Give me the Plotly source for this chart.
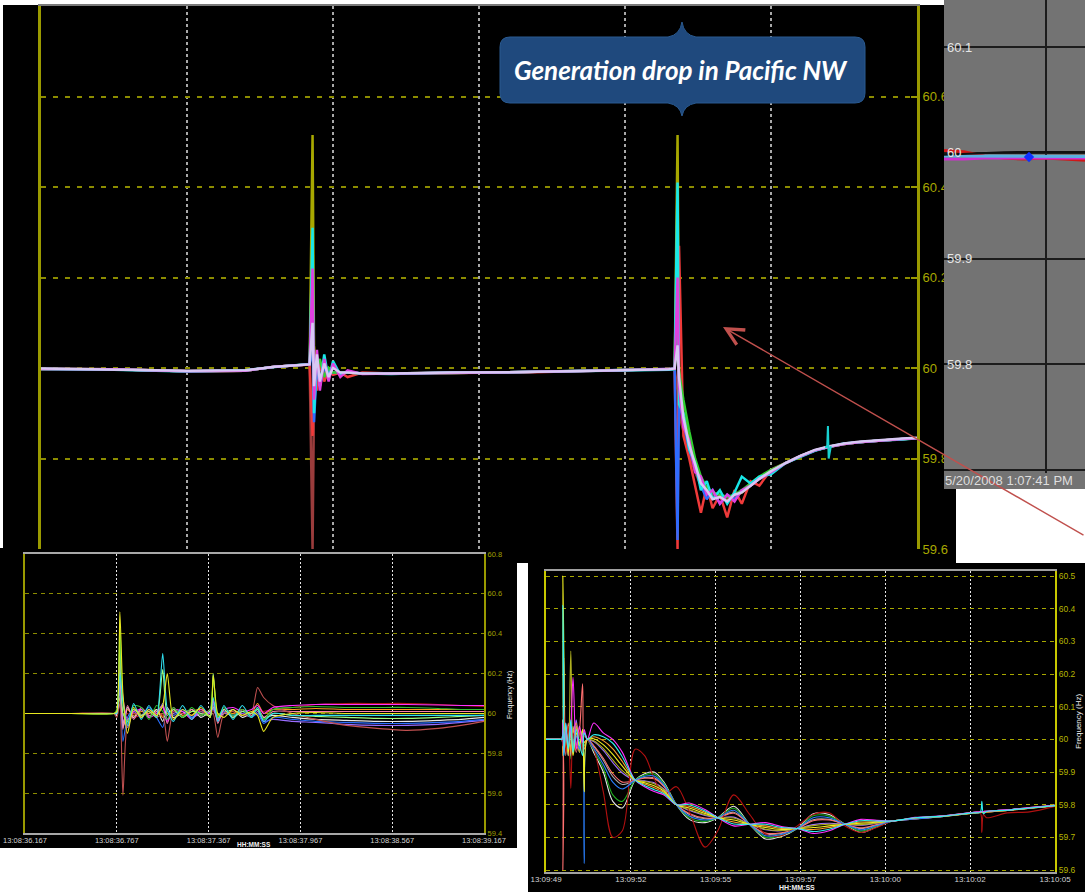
import plotly.graph_objects as go

# ---------------- data ----------------
# Panel 1: large overview (x in grid units, y in Hz)
P1_X = [0, 0.5, 1.0, 1.4, 1.6, 1.84, 1.86, 1.87, 1.89, 1.91, 1.94, 1.97, 2.0, 2.05, 2.1,
        2.2, 2.4, 2.8, 3.3, 3.8, 4.3, 4.34, 4.36, 4.37, 4.40, 4.44, 4.48, 4.52, 4.56, 4.60,
        4.65, 4.70, 4.75, 4.80, 4.86, 4.92, 5.0, 5.1, 5.2, 5.3, 5.4, 5.5, 5.6, 5.75, 5.9, 6.0]
P1_OLIVE = [59.998, 59.997, 59.993, 59.994, 60.003, 60.008, 60.515, 60.05, 59.97, 60.01,
            59.985, 60.0, 59.99, 59.99, 59.99, 59.988, 59.988, 59.989, 59.991, 59.994,
            59.997, 59.998, 60.515, 60.0, 59.90, 59.85, 59.78, 59.75, 59.73, 59.72,
            59.715, 59.71, 59.715, 59.725, 59.74, 59.755, 59.77, 59.79, 59.805, 59.818,
            59.826, 59.832, 59.836, 59.84, 59.843, 59.845]
P1_BROWN = [59.998, 59.997, 59.993, 59.994, 60.003, 60.008, 59.60, 59.93, 60.0, 59.98,
            59.995, 59.99, 59.99, 59.99, 59.99, 59.988, 59.988, 59.989, 59.991, 59.994,
            59.997, 59.998, 59.95, 59.90, 59.86, 59.81, 59.77, 59.74, 59.725, 59.72,
            59.715, 59.712, 59.716, 59.726, 59.741, 59.756, 59.771, 59.79, 59.805, 59.818,
            59.826, 59.832, 59.836, 59.84, 59.843, 59.845]
P1_RED = [59.998, 59.997, 59.993, 59.994, 60.003, 60.008, 59.85, 60.02, 59.95, 60.01,
          59.97, 59.995, 59.985, 59.99, 59.98, 59.99, 59.988, 59.989, 59.99, 59.994,
          59.997, 59.998, 59.60, 60.27, 59.85, 59.80, 59.74, 59.68, 59.74, 59.69,
          59.72, 59.67, 59.73, 59.70, 59.75, 59.74, 59.775, 59.79, 59.805, 59.818,
          59.826, 59.832, 59.836, 59.84, 59.843, 59.845]
P1_BLUE = [59.998, 59.997, 59.993, 59.994, 60.003, 60.008, 60.05, 59.88, 60.01, 59.96,
           60.0, 59.99, 59.99, 59.99, 59.99, 59.988, 59.988, 59.989, 59.991, 59.994,
           59.997, 59.998, 59.62, 59.93, 59.88, 59.82, 59.78, 59.74, 59.71, 59.73,
           59.70, 59.72, 59.71, 59.73, 59.74, 59.755, 59.77, 59.79, 59.805, 59.818,
           59.826, 59.832, 59.836, 59.84, 59.843, 59.845]
P1_GREEN = [59.998, 59.997, 59.993, 59.994, 60.003, 60.008, 60.15, 59.95, 60.0, 60.02,
            59.98, 60.0, 59.99, 59.99, 59.99, 59.988, 59.988, 59.989, 59.991, 59.994,
            59.997, 59.998, 60.12, 59.99, 59.93, 59.86, 59.80, 59.76, 59.735, 59.725,
            59.72, 59.715, 59.72, 59.73, 59.745, 59.76, 59.775, 59.79, 59.805, 59.818,
            59.826, 59.832, 59.836, 59.84, 59.843, 59.845]
P1_CYAN = [59.998, 59.996, 59.992, 59.995, 60.002, 60.009, 60.31, 59.90, 60.02, 59.96,
           60.03, 59.975, 60.015, 59.985, 59.992, 59.988, 59.987, 59.99, 59.991, 59.993,
           59.996, 59.998, 60.41, 59.92, 59.90, 59.82, 59.79, 59.73, 59.75, 59.71,
           59.73, 59.70, 59.725, 59.76, 59.745, 59.76, 59.765, 59.79, 59.804, 59.817,
           59.826, 59.833, 59.836, 59.84, 59.842, 59.845]
P1_MAGENTA = [59.998, 59.997, 59.993, 59.994, 60.003, 60.008, 60.22, 59.93, 60.04, 59.95,
              60.02, 59.97, 60.01, 59.98, 59.995, 59.987, 59.988, 59.989, 59.991, 59.994,
              59.997, 59.998, 60.20, 59.96, 59.87, 59.84, 59.77, 59.76, 59.72, 59.73,
              59.70, 59.72, 59.705, 59.73, 59.74, 59.755, 59.77, 59.79, 59.805, 59.818,
              59.826, 59.832, 59.836, 59.84, 59.843, 59.845]
P1_LAVENDER = [59.999, 59.997, 59.994, 59.995, 60.003, 60.008, 60.10, 59.96, 60.03, 59.97,
               60.01, 59.98, 60.0, 59.99, 59.99, 59.988, 59.988, 59.99, 59.991, 59.994,
               59.997, 59.999, 60.05, 59.98, 59.89, 59.83, 59.79, 59.745, 59.73, 59.71,
               59.715, 59.705, 59.72, 59.725, 59.74, 59.755, 59.772, 59.79, 59.806, 59.819,
               59.827, 59.833, 59.837, 59.841, 59.844, 59.846]
# small late glitch on one unit (cyan)
P1_GLITCH_X = [5.37, 5.385, 5.39, 5.395, 5.41]
P1_GLITCH_Y = [59.825, 59.826, 59.872, 59.80, 59.827]
P1_XGRID = [1, 2, 3, 4, 5]
P1_YTICKS = [59.6, 59.8, 60.0, 60.2, 60.4, 60.6, 60.8]
P1_YTEXT = ["59.6", "59.8", "60", "60.2", "60.4", "60.6", "60.8"]

# Panel 2: grey zoomed view
P2_X = [0, 2, 4, 6, 8, 10, 12, 14.1]
P2_RED = [60.002, 60.001, 59.997, 59.995, 59.994, 59.995, 59.994, 59.993]
P2_MAGENTA = [59.994, 59.994, 59.995, 59.995, 59.995, 59.995, 59.995, 59.995]
P2_LIGHTBLUE = [59.997, 59.997, 59.997, 59.997, 59.997, 59.9965, 59.9965, 59.9965]
P2_BLACK = [59.998, 59.999, 59.9995, 60.0005, 60.0008, 60.0008, 60.0007, 60.0006]
P2_MARK_X = [8.5]
P2_MARK_Y = [59.996]
P2_XGRID = [10.2]
P2_YTICKS = [59.7, 59.8, 59.9, 60.0, 60.1]
P2_YTEXT = ["59.7", "59.8", "59.9", "60", "60.1"]
P2_DATE = "5/20/2008 1:07:41 PM"

# Panel 3: bottom-left (seconds after 13:08:36.167)
T3 = [0, 0.3, 0.58, 0.6, 0.62, 0.64, 0.67, 0.71, 0.76, 0.81, 0.86, 0.90, 0.93, 0.97, 1.03,
      1.09, 1.15, 1.21, 1.23, 1.26, 1.30, 1.36, 1.42, 1.48, 1.52, 1.56, 1.62, 1.75, 1.9,
      2.1, 2.3, 2.5, 2.7, 2.85, 3.0]
P3_DARKRED = [60.0, 60.0, 60.0, 60.0, 60.04, 59.98, 60.0, 59.98, 59.99, 60.0, 60.01, 59.99,
              60.0, 59.99, 60.0, 59.99, 60.0, 60.0, 60.01, 59.99, 60.0, 60.0, 60.0, 60.0,
              60.02, 60.01, 60.02, 60.03, 60.045, 60.05, 60.05, 60.05, 60.045, 60.04, 60.035]
P3_ORANGE = [60.0, 60.0, 60.0, 60.0, 60.08, 59.95, 60.02, 59.99, 60.01, 60.0, 60.02, 59.98,
             60.0, 60.02, 59.99, 60.01, 60.02, 59.99, 60.04, 59.99, 60.01, 60.0, 60.02, 60.0,
             60.05, 60.0, 60.02, 60.02, 60.025, 60.02, 60.02, 60.02, 60.02, 60.02, 60.02]
P3_PURPLE = [60.0, 60.0, 60.0, 60.0, 60.25, 59.97, 59.93, 60.01, 59.98, 60.02, 59.99, 60.05,
             59.97, 60.0, 60.01, 59.98, 60.0, 60.01, 60.02, 59.97, 60.0, 59.99, 60.0, 59.98,
             60.01, 59.96, 59.97, 59.96, 59.955, 59.945, 59.94, 59.94, 59.945, 59.955, 59.965]
P3_WHITE = [60.0, 60.0, 60.0, 60.0, 60.12, 59.93, 60.03, 59.98, 60.02, 59.98, 60.02, 59.96,
            60.03, 59.98, 60.0, 60.02, 59.98, 60.01, 60.03, 59.98, 60.0, 60.02, 59.98, 60.0,
            60.02, 59.98, 59.99, 59.98, 59.97, 59.965, 59.96, 59.96, 59.965, 59.97, 59.98]
P3_BLUE = [60.0, 60.0, 60.0, 60.0, 60.15, 59.86, 59.98, 60.02, 59.99, 60.03, 59.98, 59.93,
           60.01, 59.99, 60.02, 59.98, 60.01, 60.0, 60.05, 59.96, 60.01, 59.99, 60.01, 59.98,
           60.0, 59.95, 59.98, 59.97, 59.96, 59.955, 59.95, 59.95, 59.955, 59.96, 59.97]
P3_PINK = [60.0, 60.0, 60.0, 60.0, 60.18, 59.92, 60.04, 59.97, 60.03, 59.99, 60.01, 60.04,
           59.95, 60.03, 59.98, 60.02, 59.99, 60.02, 60.06, 59.95, 60.02, 59.98, 60.02, 59.99,
           60.03, 59.98, 60.01, 60.01, 60.01, 60.01, 60.01, 60.01, 60.01, 60.01, 60.01]
P3_BROWN = [60.0, 60.0, 60.0, 59.98, 60.05, 59.59, 59.96, 60.0, 59.99, 60.01, 59.98, 60.0,
            59.86, 60.01, 60.0, 59.99, 60.01, 59.99, 60.0, 59.88, 60.0, 60.01, 59.99, 60.0,
            60.13, 60.08, 60.04, 60.0, 59.97, 59.94, 59.925, 59.915, 59.925, 59.94, 59.96]
P3_MAGENTA = [60.0, 60.0, 60.0, 60.0, 60.30, 60.08, 59.97, 60.01, 60.02, 59.98, 60.0, 60.03,
              59.96, 60.02, 60.01, 59.97, 60.02, 60.0, 60.07, 59.97, 60.02, 60.03, 60.01, 60.02,
              60.04, 60.0, 60.03, 60.04, 60.045, 60.045, 60.045, 60.045, 60.042, 60.04, 60.04]
P3_LIGHTGREEN = [60.0, 60.0, 60.0, 60.0, 60.38, 60.0, 59.96, 60.02, 59.99, 60.01, 59.98, 60.22,
                 59.99, 60.02, 59.98, 60.01, 60.0, 59.99, 60.2, 59.98, 60.02, 59.98, 60.01, 60.0,
                 60.02, 59.97, 60.0, 59.99, 59.985, 59.98, 59.975, 59.975, 59.98, 59.985, 59.99]
P3_GREEN = [60.0, 60.0, 60.0, 60.02, 60.45, 60.05, 59.95, 60.04, 60.03, 59.97, 60.04, 60.01,
            59.97, 60.03, 59.98, 60.03, 59.99, 60.02, 60.18, 59.98, 60.03, 59.99, 60.02, 59.98,
            60.03, 59.97, 60.02, 60.03, 60.035, 60.03, 60.03, 60.03, 60.025, 60.02, 60.02]
P3_CYAN = [60.0, 60.0, 60.0, 60.0, 60.20, 60.06, 59.94, 60.05, 59.97, 60.04, 59.98, 60.30,
           60.02, 59.96, 60.04, 59.97, 60.04, 59.98, 60.08, 59.96, 60.04, 59.97, 60.04, 59.98,
           60.03, 59.96, 60.0, 59.99, 59.99, 59.99, 59.99, 59.99, 59.99, 59.99, 59.99]
P3_YELLOW = [60.0, 60.0, 60.0, 60.01, 60.51, 60.10, 59.90, 60.03, 59.98, 60.02, 59.99, 60.04,
             60.20, 59.97, 60.02, 59.99, 60.03, 59.98, 60.19, 60.0, 59.98, 60.02, 59.99, 60.01,
             59.99, 59.91, 59.98, 60.0, 60.005, 60.0, 60.0, 60.0, 60.0, 60.0, 60.0]
P3_XTICKS = [0, 0.6, 1.2, 1.8, 2.4, 3.0]
P3_XTEXT = ["13:08:36.167", "13:08:36.767", "13:08:37.367", "13:08:37.967",
            "13:08:38.567", "13:08:39.167"]
P3_YTICKS = [59.4, 59.6, 59.8, 60.0, 60.2, 60.4, 60.6, 60.8]
P3_YTEXT = ["59.4", "59.6", "59.8", "60", "60.2", "60.4", "60.6", "60.8"]

# Panel 4: bottom-right (seconds after 13:09:49)
T4 = [0, 0.45, 0.5, 0.53, 0.56, 0.62, 0.7, 0.78, 0.85, 0.95, 1.05, 1.15, 1.2, 1.3, 1.5,
      1.8, 2.1, 2.4, 2.8, 3.1, 3.4, 3.7, 4.1, 4.5, 5.0, 5.4, 5.9, 6.4, 6.9, 7.4, 7.9, 8.4,
      8.9, 9.4, 9.9, 10.4, 10.9, 11.6, 12.5, 13.4, 13.65, 13.7, 13.75, 13.85, 14.5, 15.2, 16.0]
P4_WHITE = [60.0, 60.0, 60.0, 60.06, 59.97, 60.02, 59.95, 60.03, 59.98, 60.04, 59.96, 60.03, 59.99,
            60.0, 59.96, 59.90, 59.81, 59.79, 59.875, 59.895, 59.90, 59.87, 59.80, 59.755, 59.745,
            59.76, 59.795, 59.74, 59.695, 59.703, 59.727, 59.772, 59.77, 59.74, 59.715, 59.732,
            59.75, 59.758, 59.766, 59.776, 59.778, 59.779, 59.779, 59.78, 59.784, 59.791, 59.798]
P4_GREEN = [60.0, 60.0, 60.0, 59.96, 60.05, 59.97, 60.03, 59.94, 60.02, 59.97, 60.04, 59.98, 60.02,
            60.0, 59.966, 59.912, 59.83, 59.81, 59.875, 59.891, 59.894, 59.866, 59.80, 59.76, 59.749,
            59.76, 59.789, 59.74, 59.70, 59.706, 59.727, 59.766, 59.765, 59.74, 59.719, 59.734,
            59.75, 59.757, 59.765, 59.775, 59.777, 59.778, 59.778, 59.779, 59.783, 59.79, 59.797]
P4_GREY = [60.0, 60.0, 60.0, 59.97, 60.04, 59.98, 60.02, 59.95, 60.04, 59.98, 60.03, 59.97, 60.01,
           60.0, 59.978, 59.936, 59.886, 59.862, 59.875, 59.883, 59.882, 59.858, 59.80, 59.77, 59.757,
           59.76, 59.777, 59.74, 59.71, 59.712, 59.727, 59.754, 59.755, 59.74, 59.727, 59.738,
           59.75, 59.757, 59.765, 59.775, 59.777, 59.778, 59.778, 59.779, 59.783, 59.79, 59.797]
P4_SALMON = [60.0, 60.0, 60.0, 59.60, 60.25, 59.95, 60.05, 59.97, 60.03, 59.96, 60.02, 60.17, 59.97,
             60.0, 59.981, 59.942, 59.895, 59.869, 59.875, 59.881, 59.879, 59.856, 59.80, 59.773, 59.759,
             59.76, 59.774, 59.74, 59.713, 59.714, 59.727, 59.751, 59.753, 59.74, 59.729, 59.739,
             59.75, 59.756, 59.764, 59.774, 59.776, 59.777, 59.777, 59.778, 59.782, 59.789, 59.796]
P4_PURPLE = [60.0, 60.0, 60.0, 60.02, 59.97, 60.05, 59.96, 60.02, 59.98, 60.06, 59.98, 60.0, 60.02,
             60.0, 59.993, 59.966, 59.929, 59.897, 59.875, 59.873, 59.867, 59.848, 59.80, 59.783, 59.767,
             59.76, 59.762, 59.74, 59.723, 59.72, 59.727, 59.739, 59.743, 59.74, 59.737, 59.743,
             59.75, 59.757, 59.766, 59.776, 59.778, 59.778, 59.778, 59.78, 59.784, 59.79, 59.798]
P4_OLIVE = [60.0, 60.0, 60.0, 60.04, 59.96, 60.03, 59.95, 60.27, 59.97, 60.04, 59.96, 60.03, 59.98,
            60.0, 59.996, 59.972, 59.937, 59.904, 59.875, 59.871, 59.864, 59.846, 59.80, 59.785, 59.769,
            59.76, 59.759, 59.74, 59.725, 59.721, 59.727, 59.736, 59.74, 59.74, 59.739, 59.744,
            59.75, 59.758, 59.764, 59.774, 59.776, 59.777, 59.777, 59.778, 59.782, 59.789, 59.796]
P4_ORANGE = [60.0, 60.0, 60.0, 59.95, 60.06, 59.97, 60.04, 59.96, 60.02, 60.05, 59.97, 60.01, 59.99,
             60.0, 60.008, 59.996, 59.971, 59.932, 59.875, 59.863, 59.852, 59.838, 59.80, 59.795, 59.777,
             59.76, 59.747, 59.74, 59.735, 59.727, 59.727, 59.724, 59.73, 59.74, 59.747, 59.748,
             59.75, 59.759, 59.765, 59.774, 59.776, 59.777, 59.777, 59.778, 59.782, 59.789, 59.796]
P4_DARKRED = [60.0, 60.0, 60.0, 59.98, 60.03, 59.96, 60.04, 59.85, 60.02, 59.97, 60.03, 59.96, 60.01,
              60.0, 59.97, 59.84, 59.70, 59.72, 59.97, 59.95, 59.88, 59.83, 59.855, 59.78, 59.67,
              59.72, 59.83, 59.77, 59.71, 59.705, 59.735, 59.77, 59.775, 59.735, 59.715, 59.73,
              59.75, 59.757, 59.765, 59.775, 59.776, 59.715, 59.77, 59.76, 59.775, 59.778, 59.795]
P4_BLUE = [60.0, 60.0, 60.0, 60.03, 59.95, 60.02, 59.97, 60.05, 59.96, 60.01, 59.97, 60.02, 59.62,
           60.0, 59.972, 59.924, 59.869, 59.848, 59.875, 59.887, 59.888, 59.862, 59.80, 59.765, 59.753,
           59.76, 59.783, 59.74, 59.705, 59.709, 59.727, 59.76, 59.76, 59.74, 59.723, 59.736,
           59.75, 59.756, 59.764, 59.775, 59.777, 59.778, 59.778, 59.779, 59.783, 59.79, 59.797]
P4_YELLOW = [60.0, 60.0, 60.0, 60.50, 59.97, 60.04, 59.96, 60.03, 59.95, 60.02, 59.98, 60.03, 59.84,
             60.0, 60.002, 59.984, 59.954, 59.918, 59.875, 59.867, 59.858, 59.842, 59.80, 59.79, 59.773,
             59.76, 59.753, 59.74, 59.73, 59.724, 59.727, 59.730, 59.735, 59.74, 59.743, 59.746,
             59.75, 59.759, 59.765, 59.775, 59.777, 59.778, 59.778, 59.779, 59.783, 59.79, 59.797]
P4_MAGENTA = [60.0, 60.0, 60.0, 60.05, 59.96, 60.03, 59.98, 60.04, 60.19, 59.97, 60.04, 59.99, 60.03,
              60.0, 60.05, 60.02, 60.0, 59.96, 59.875, 59.855, 59.84, 59.83, 59.80, 59.805, 59.785,
              59.76, 59.735, 59.74, 59.745, 59.733, 59.727, 59.712, 59.72, 59.74, 59.755, 59.752,
              59.75, 59.761, 59.766, 59.776, 59.778, 59.779, 59.779, 59.78, 59.784, 59.791, 59.798]
P4_CYAN = [60.0, 60.0, 60.0, 60.41, 59.95, 60.05, 59.97, 60.06, 59.96, 60.03, 59.99, 59.95, 60.02,
           60.0, 60.014, 60.008, 59.988, 59.946, 59.875, 59.859, 59.846, 59.834, 59.80, 59.80, 59.781,
           59.76, 59.741, 59.74, 59.74, 59.73, 59.727, 59.718, 59.725, 59.74, 59.751, 59.75,
           59.75, 59.76, 59.765, 59.775, 59.777, 59.81, 59.772, 59.779, 59.783, 59.79, 59.797]
P4_XTICKS = [0, 2.667, 5.333, 8.0, 10.667, 13.333, 16.0]
P4_XTEXT = ["13:09:49", "13:09:52", "13:09:55", "13:09:57", "13:10:00", "13:10:02", "13:10:05"]
P4_YTICKS = [59.6, 59.7, 59.8, 59.9, 60.0, 60.1, 60.2, 60.3, 60.4, 60.5]
P4_YTEXT = ["59.6", "59.7", "59.8", "59.9", "60", "60.1", "60.2", "60.3", "60.4", "60.5"]

CALLOUT = "Generation drop in Pacific NW"

# ---------------- geometry helpers (pixel -> paper) ----------------
W, H = 1085, 892
def fx(p):
    return p / W
def fy(p):
    return 1 - p / H
def pt(x, y):
    return f"{fx(x):.5f},{fy(y):.5f}"

fig = go.Figure()

def add(xs, ys, color, width, ax, shape="linear", smoothing=1.0):
    n = min(len(xs), len(ys))
    line = dict(color=color, width=width, shape=shape)
    if shape == "spline":
        line["smoothing"] = smoothing
    fig.add_trace(go.Scatter(x=xs[:n], y=ys[:n], mode="lines", line=line,
                             xaxis="x" + ax, yaxis="y" + ax,
                             hoverinfo="skip", showlegend=False))

# panel 1 traces
for ys, c in [(P1_OLIVE, "#a8a800"), (P1_BROWN, "#9a3c3c"), (P1_RED, "#f03a3a"),
              (P1_BLUE, "#2f6cff"), (P1_GREEN, "#30d030"), (P1_CYAN, "#18e8e8"),
              (P1_MAGENTA, "#e040e0"), (P1_LAVENDER, "#d8c8f4")]:
    add(P1_X, ys, c, 2.5, "")
add(P1_GLITCH_X, P1_GLITCH_Y, "#18d0d0", 2, "")

# panel 2 traces
add(P2_X, P2_RED, "#d01818", 3, "2")
add(P2_X, P2_MAGENTA, "#d030d0", 3, "2")
add(P2_X, P2_LIGHTBLUE, "#5ab0e0", 3, "2")
add(P2_X, P2_BLACK, "#101010", 2, "2")
fig.add_trace(go.Scatter(x=P2_MARK_X, y=P2_MARK_Y, mode="markers",
                         marker=dict(symbol="diamond", size=8, color="#1030ff"),
                         xaxis="x2", yaxis="y2", hoverinfo="skip", showlegend=False))

# panel 3 traces
for ys, c in [(P3_DARKRED, "#b01818"), (P3_ORANGE, "#ff9a20"), (P3_PURPLE, "#9a6cff"),
              (P3_WHITE, "#e8e8e8"), (P3_BLUE, "#2a70ff"), (P3_PINK, "#ff80b0"),
              (P3_BROWN, "#c05050"), (P3_MAGENTA, "#ff30ff"), (P3_LIGHTGREEN, "#a0ff80"),
              (P3_GREEN, "#30c030"), (P3_CYAN, "#30e0f0"), (P3_YELLOW, "#e8e820")]:
    add(T3, ys, c, 1.1, "3", shape="spline", smoothing=0.6)

# panel 4 traces
for ys, c in [(P4_WHITE, "#e8e8e8"), (P4_GREEN, "#20b020"), (P4_GREY, "#a8a8a8"),
              (P4_SALMON, "#ff7070"), (P4_PURPLE, "#a070ff"), (P4_OLIVE, "#b0b020"),
              (P4_ORANGE, "#ffa030"), (P4_DARKRED, "#b01010"), (P4_BLUE, "#2a80ff"),
              (P4_YELLOW, "#f0f020"), (P4_MAGENTA, "#ff30ff"), (P4_CYAN, "#30f0f0")]:
    add(T4, ys, c, 1.1, "4", shape="spline", smoothing=0.9)

TICKFONT = "Liberation Sans, Arial, sans-serif"

# backgrounds
shapes = [
    dict(type="rect", xref="paper", yref="paper", x0=fx(3), x1=fx(956), y0=fy(563), y1=fy(5),
         fillcolor="black", line=dict(width=0), layer="below"),
    dict(type="rect", xref="paper", yref="paper", x0=fx(944), x1=1, y0=fy(489), y1=1,
         fillcolor="#737373", line=dict(width=0), layer="below"),
    dict(type="rect", xref="paper", yref="paper", x0=0, x1=fx(517), y0=fy(848), y1=fy(548),
         fillcolor="black", line=dict(width=0), layer="below"),
    dict(type="rect", xref="paper", yref="paper", x0=fx(528), x1=1, y0=0, y1=fy(563),
         fillcolor="black", line=dict(width=0), layer="below"),
]
P2_XR = [P2_X[0], P2_X[-1]]
P2_YR = [59.6972, 60.1444]
# grey panel area drawn inside its own subplot so it sits over the big panel's labels
shapes.append(dict(type="rect", xref="x2", yref="y2", x0=P2_XR[0], x1=P2_XR[1],
                   y0=P2_YR[0], y1=P2_YR[1], fillcolor="#737373",
                   line=dict(width=0), layer="below"))

# callout bubble
bubble = ("M" + pt(510, 37) + " L" + pt(668, 37) + " Q" + pt(680, 35) + " " + pt(682, 22) +
          " Q" + pt(684, 35) + " " + pt(696, 37) + " L" + pt(855, 37) +
          " Q" + pt(865, 37) + " " + pt(865, 47) + " L" + pt(865, 93) +
          " Q" + pt(865, 103) + " " + pt(855, 103) + " L" + pt(696, 103) +
          " Q" + pt(684, 105) + " " + pt(682, 116) + " Q" + pt(680, 105) + " " + pt(668, 103) +
          " L" + pt(510, 103) + " Q" + pt(500, 103) + " " + pt(500, 93) +
          " L" + pt(500, 47) + " Q" + pt(500, 37) + " " + pt(510, 37) + " Z")
shapes.append(dict(type="path", xref="paper", yref="paper", path=bubble,
                   fillcolor="#1f497d", line=dict(color="#2a5a90", width=1), layer="above"))

annotations = [
    dict(x=fx(681), y=fy(70), xref="paper", yref="paper", text="<b><i>" + CALLOUT + "</i></b>",
         xanchor="center", yanchor="middle", showarrow=False,
         font=dict(family="Lato, Open Sans, sans-serif", size=26, color="white")),
    dict(x=fx(723), y=fy(327), xref="paper", yref="paper", text="", showarrow=True,
         ax=390, ay=209, arrowhead=5, arrowsize=2.4, arrowwidth=1.4, arrowcolor="#c0504d"),
    dict(x=fx(944), y=fy(481), xref="paper", yref="paper", text=P2_DATE, showarrow=False,
         xanchor="left", yanchor="middle", borderpad=0,
         font=dict(family=TICKFONT, size=13, color="#dedede")),
    dict(x=fx(254), y=fy(844), xref="paper", yref="paper", text="<b>HH:MM:SS</b>",
         xanchor="center", yanchor="middle", borderpad=0,
         showarrow=False, font=dict(family=TICKFONT, size=6.5, color="#f0f0f0")),
    dict(x=fx(510), y=fy(695), xref="paper", yref="paper", text="Frequency (Hz)", textangle=-90,
         xanchor="center", yanchor="middle", borderpad=0,
         showarrow=False, font=dict(family=TICKFONT, size=7, color="#f0f0f0")),
    dict(x=fx(797), y=fy(887), xref="paper", yref="paper", text="<b>HH:MM:SS</b>",
         xanchor="center", yanchor="middle", borderpad=0,
         showarrow=False, font=dict(family=TICKFONT, size=7, color="#f0f0f0")),
    dict(x=fx(1078), y=fy(722), xref="paper", yref="paper", text="Frequency (Hz)", textangle=-90,
         xanchor="center", yanchor="middle", borderpad=0,
         showarrow=False, font=dict(family=TICKFONT, size=8, color="#f0f0f0")),
]

fig.update_layout(
    width=W, height=H, autosize=False,
    margin=dict(l=0, r=0, t=0, b=0, pad=0, autoexpand=False),
    paper_bgcolor="white", plot_bgcolor="rgba(0,0,0,0)", showlegend=False,
    shapes=shapes, annotations=annotations,
    # panel 1
    xaxis=dict(domain=[fx(41), fx(917)], range=[0, 6], tickvals=P1_XGRID, showticklabels=False,
               ticks="", showgrid=True, gridcolor="#a8a8a8", gridwidth=2, griddash="dot",
               zeroline=False, showline=True, linecolor="#7a7a7a", linewidth=2, side="top",
               anchor="y", fixedrange=True, automargin=False),
    yaxis=dict(domain=[fy(549), fy(6)], range=[59.6, 60.8], tickvals=P1_YTICKS, ticktext=P1_YTEXT,
               side="right", showgrid=True, gridcolor="#8c8c00", gridwidth=2, griddash="5px,7px",
               zeroline=False, showline=True, mirror=True, linecolor="#9a9a00", linewidth=3,
               ticks="inside", ticklen=6, tickwidth=2, tickcolor="#9a9a00",
               tickfont=dict(family=TICKFONT, size=13, color="#a8a800"), anchor="x",
               fixedrange=True, automargin=False),
    # panel 2
    xaxis2=dict(domain=[fx(944), 1], range=P2_XR, tickvals=P2_XGRID, showticklabels=False, ticks="",
                showgrid=True, gridcolor="#1c1c1c", gridwidth=2, zeroline=False, showline=False,
                anchor="y2", fixedrange=True, automargin=False),
    yaxis2=dict(domain=[fy(473), 1], range=P2_YR, tickvals=P2_YTICKS, ticktext=P2_YTEXT,
                ticklabelposition="inside", side="left", ticks="", showgrid=True,
                gridcolor="#1c1c1c", gridwidth=2, zeroline=False, showline=False,
                tickfont=dict(family=TICKFONT, size=13, color="#e6e6e6"), anchor="x2",
                fixedrange=True, automargin=False),
    # panel 3
    xaxis3=dict(domain=[fx(25), fx(484)], range=[0, 3], tickvals=P3_XTICKS, ticktext=P3_XTEXT,
                ticks="", tickfont=dict(family=TICKFONT, size=7.5, color="#d4d4d4"),
                ticklabelstandoff=-1,
                showgrid=True, gridcolor="#e6e6e6", gridwidth=1, griddash="2px,2px",
                zeroline=False, showline=True, mirror=True, linecolor="#a8a8a8", linewidth=1.5,
                anchor="y3", fixedrange=True, automargin=False),
    yaxis3=dict(domain=[fy(833), fy(554)], range=[59.4, 60.8], tickvals=P3_YTICKS, ticktext=P3_YTEXT,
                side="right", ticks="", tickfont=dict(family=TICKFONT, size=7.5, color="#a0a000"),
                showgrid=True, gridcolor="#8c8c00", gridwidth=1, griddash="4px,4px",
                zeroline=False, showline=True, mirror=True, linecolor="#9a9a00", linewidth=2,
                anchor="x3", fixedrange=True, automargin=False),
    # panel 4
    xaxis4=dict(domain=[fx(546), fx(1055)], range=[0, 16], tickvals=P4_XTICKS, ticktext=P4_XTEXT,
                ticks="", tickfont=dict(family=TICKFONT, size=8, color="#d4d4d4"),
                ticklabelstandoff=-1,
                showgrid=True, gridcolor="#e6e6e6", gridwidth=1, griddash="2px,2px",
                zeroline=False, showline=True, mirror=True, linecolor="#a0a0a0", linewidth=1.5,
                anchor="y4", fixedrange=True, automargin=False),
    yaxis4=dict(domain=[fy(872), fy(571)], range=[59.5939, 60.5153], tickvals=P4_YTICKS,
                ticktext=P4_YTEXT, side="right", ticks="",
                tickfont=dict(family=TICKFONT, size=8.5, color="#b4b400"),
                showgrid=True, gridcolor="#a8a800", gridwidth=1, griddash="4px,4px",
                zeroline=False, showline=True, mirror=True, linecolor="#c8c800", linewidth=2,
                anchor="x4", fixedrange=True, automargin=False),
)

# the page's default body margin would shift the figure; remove it
fig.write_html("out.html", config={"displayModeBar": False},
               post_script="document.body.style.margin='0';document.body.style.overflow='hidden';")
